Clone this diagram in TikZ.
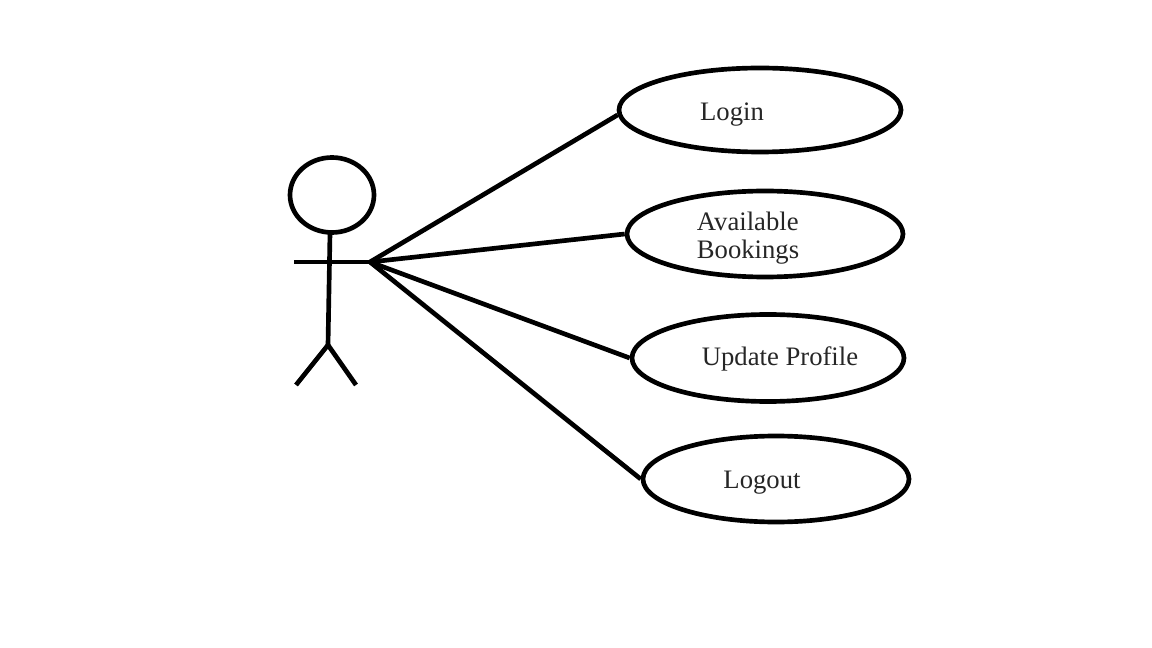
\documentclass[tikz,border=0pt]{standalone}
\usepackage{fontspec}
\setmainfont{Liberation Serif}
\usetikzlibrary{shapes.geometric}
\begin{document}
\begin{tikzpicture}[x=0.75pt,y=-0.75pt,line join=round,line width=3.5pt]
  \tikzstyle{usecase}=[ellipse,draw,inner sep=0pt]
  \tikzstyle{caption}=[font=\fontsize{20pt}{21.5pt}\selectfont,text=black!85,inner sep=0pt,align=left]
  \useasboundingbox (0,0) rectangle (1152,648);
  \node[usecase,minimum width=282pt*0.75,minimum height=84pt*0.75] (U_1) at (760,110) {};
  \node[usecase,minimum width=276pt*0.75,minimum height=86pt*0.75] (U_2) at (765,234) {};
  \node[usecase,minimum width=272pt*0.75,minimum height=87pt*0.75] (U_3) at (768,358) {};
  \node[usecase,minimum width=266pt*0.75,minimum height=86pt*0.75] (U_4) at (776,479) {};
  \node[caption] (T_1) at (732,115) {Login};
  \node[caption] (T_2) at (748,238) {Available\\Bookings};
  \node[caption] (T_3) at (780,359) {Update Profile};
  \node[caption] (T_4) at (762,483) {Logout};
  \node[ellipse,draw,inner sep=0pt,minimum width=84pt*0.75,minimum height=75pt*0.75] (head) at (332,195) {};
  \coordinate (neck) at (330,233);
  \coordinate (hip) at (328,345);
  \coordinate (handL) at (294,262);
  \coordinate (handR) at (370,262);
  \coordinate (footL) at (296,385);
  \coordinate (footR) at (356,385);
  \draw (neck) -- (hip);
  \draw (handL) -- (handR);
  \draw (footL) -- (hip) -- (footR);
  \draw (handR) -- (U_1.182);
  \draw (handR) -- (U_2.west);
  \draw (handR) -- (U_3.west);
  \draw (handR) -- (U_4.west);
\end{tikzpicture}
\end{document}
